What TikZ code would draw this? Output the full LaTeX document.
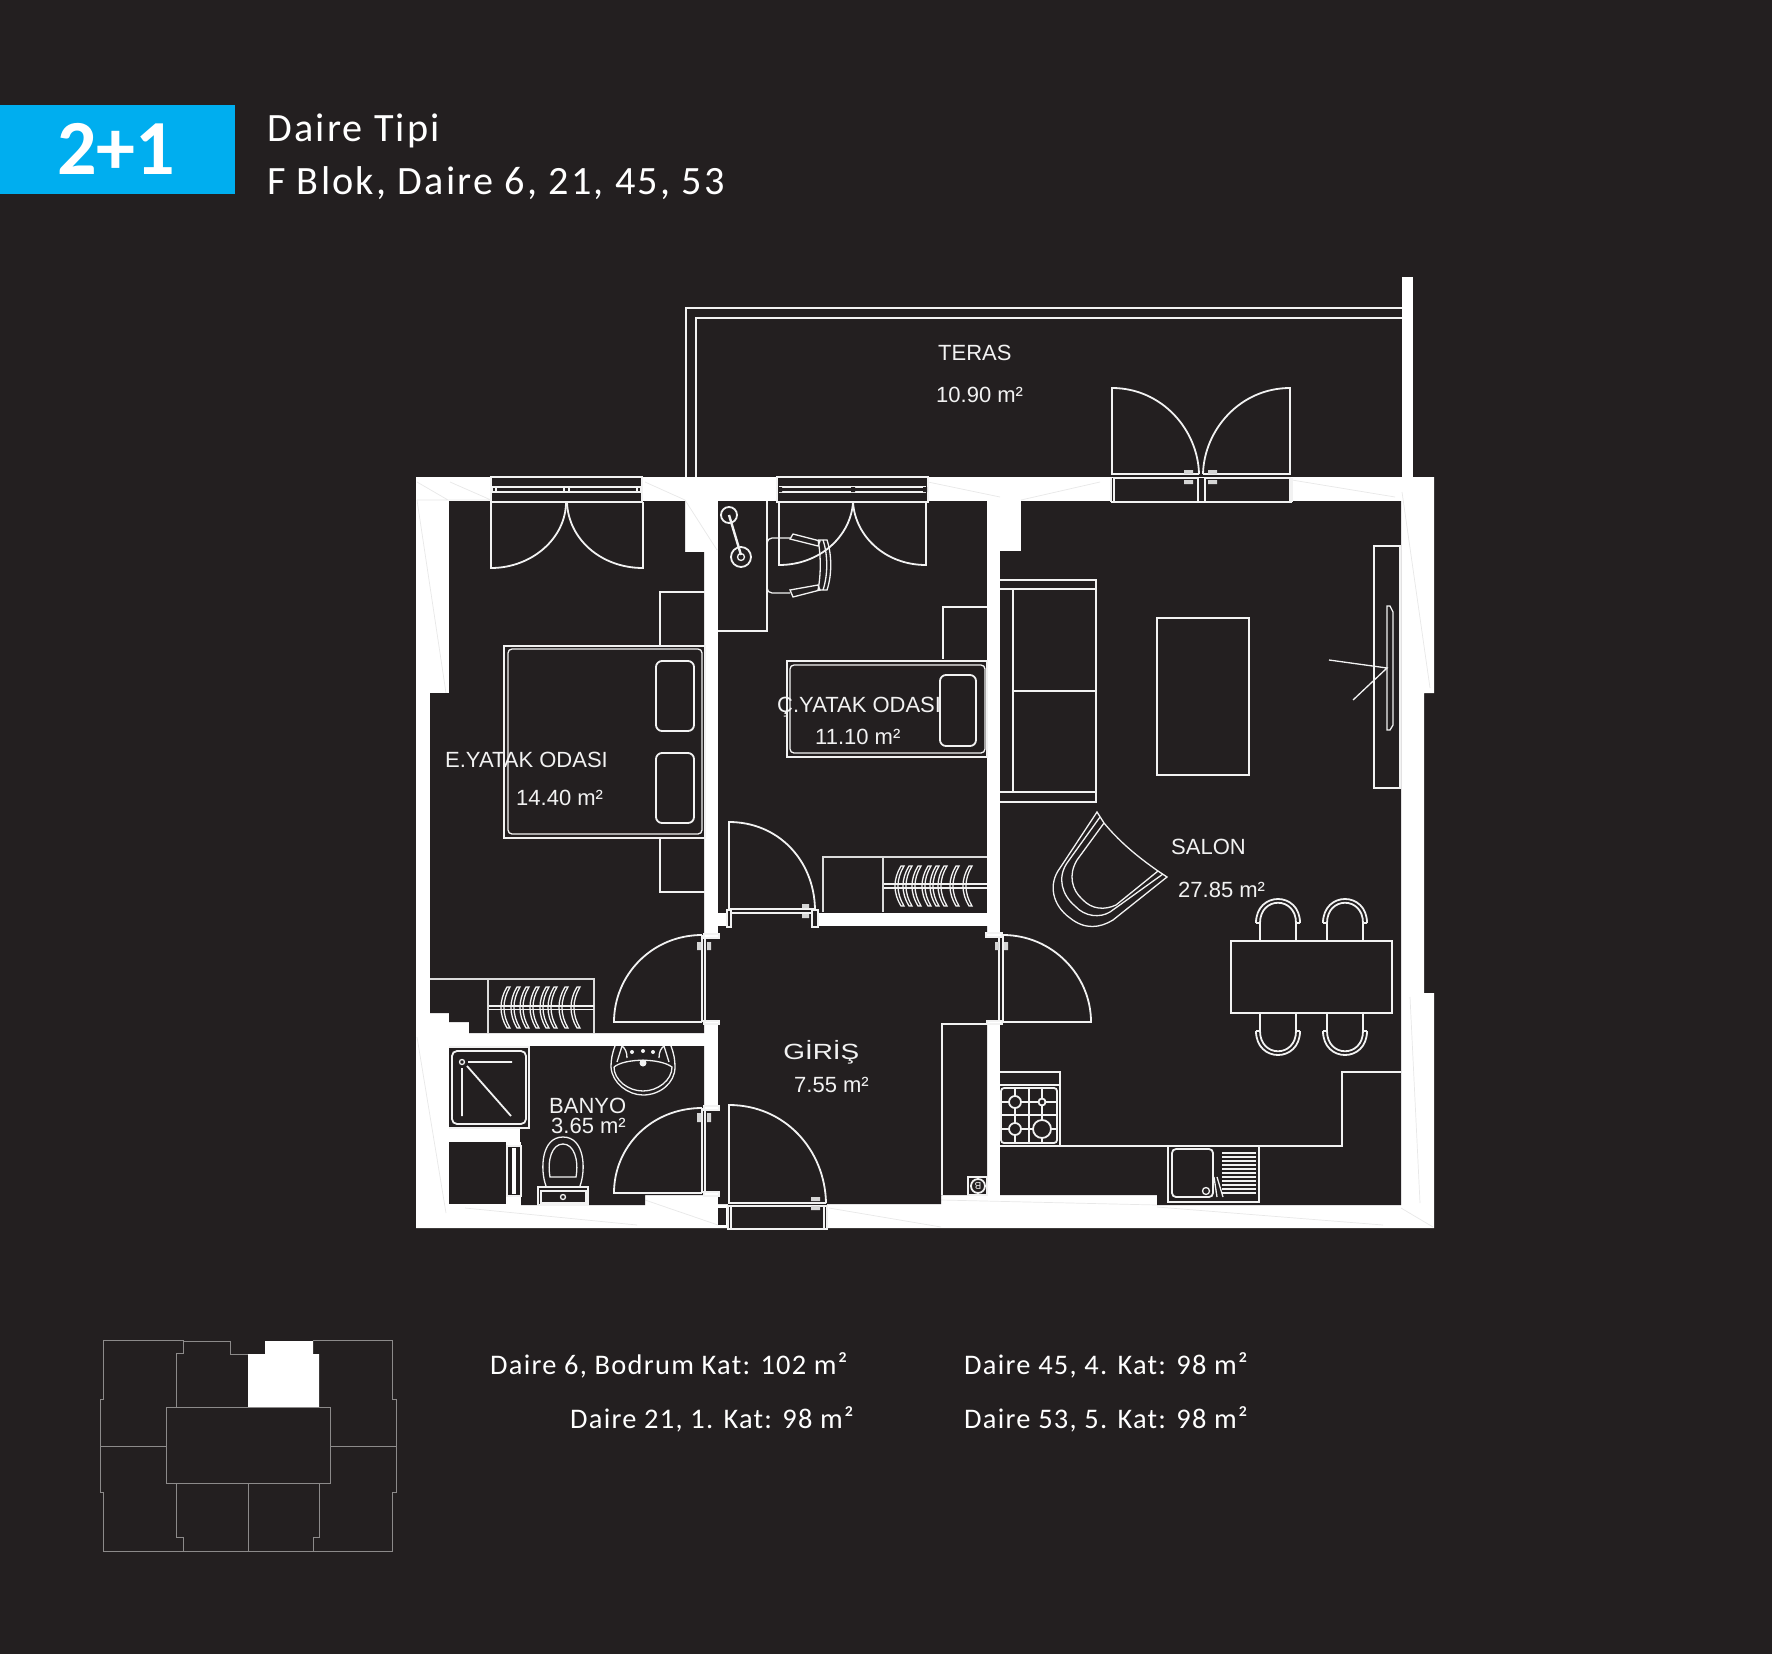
\documentclass[tikz,border=0pt]{standalone}
\usepackage{fontspec}
\setmainfont{Liberation Sans}
\newfontfamily\headfont{Carlito}
\newfontfamily\titlefont[LetterSpace=5.5]{Carlito}
\newfontfamily\listfont[LetterSpace=4.5]{Carlito}
\definecolor{planbg}{HTML}{231F20}
\definecolor{planblue}{HTML}{00AEEF}
\definecolor{planline}{HTML}{F2F2F2}
\definecolor{keyline}{HTML}{8C8A8A}
\tikzset{
  thinline/.style={draw=planline, line width=1.8pt},
  hairline/.style={draw=planline, line width=1.3pt},
  fatline/.style={draw=planline!80!gray, line width=2.6pt},
  seamline/.style={draw=black!9, line width=0.7pt},
  hinge/.style={fill=planline!75!gray, draw=none},
  keyplan/.style={draw=keyline, line width=1pt},
  roomtext/.style={font=\fontsize{22}{24}\selectfont, text=planline, inner sep=0pt, anchor=base west},
  headtext/.style={font=\titlefont\fontsize{40.2}{44}\selectfont, text=white, inner sep=0pt, anchor=base west},
  listtext/.style={font=\listfont\fontsize{28.4}{32}\selectfont, text=white, inner sep=0pt, anchor=base west}
}
\begin{document}
\begin{tikzpicture}[x=1pt, y=-1pt]
  \useasboundingbox (0,0) rectangle (1772,1654);
  \fill[planbg] (0,0) rectangle (1772,1654);

  % --- HEADER ---
  \fill[planblue] (0,105) rectangle (235,194);
  \node[font=\headfont\bfseries\fontsize{78}{84}\selectfont, text=white, inner sep=0pt] (typebox) at (116,149) {2+1};
  \node[headtext] (typetitle) at (267,141) {Daire Tipi};
  \node[headtext] (typeblock) at (267,194) {F Blok, Daire 6, 21, 45, 53};

  % --- TERRACE ---
  \draw[thinline] (686,478) -- (686,308) -- (1403,308);
  \draw[hairline] (696,478) -- (696,318) -- (1403,318);
  \fill[white] (1402,277) rectangle (1413,478);

  % --- WALLS AND ROOMS ---
  \fill[white] (416,477) -- (1434,477) -- (1434,693) -- (1424,693) -- (1424,993) -- (1434,993) -- (1434,1228) -- (416,1228) -- cycle;
  % faint seams on the walls
  \draw[seamline] (417,482) -- (448,500) (450,482) -- (491,500) (645,482) -- (685,500) (417,500) -- (491,500) (685,500) -- (717,550);
  \draw[seamline] (417,500) -- (446,693) (417,1037) -- (446,1213) (928,482) -- (1000,497) (1021,500) -- (1100,482);
  \draw[seamline] (465,1208) -- (637,1225) (645,1200) -- (718,1225) (829,1208) -- (941,1227) (1157,1207) -- (1383,1225) (941,1200) -- (1157,1205);
  \draw[seamline] (1401,1208) -- (1433,1227) (1410,997) -- (1420,1203) (1402,492) -- (1430,688) (1292,480) -- (1395,497);
  % master bedroom
  \fill[planbg] (449,501) -- (685,501) -- (685,552) -- (704,552) -- (704,1033) -- (469,1033) -- (469,1022) -- (449,1022) -- (449,1013) -- (430,1013) -- (430,693) -- (449,693) -- cycle;
  % small bedroom
  \fill[planbg] (718,501) rectangle (987,913);
  % hall
  \fill[planbg] (718,926) -- (987,926) -- (987,1195) -- (941,1195) -- (941,1204) -- (718,1204) -- cycle;
  \fill[planbg] (731,913) rectangle (812,926);
  \fill[planbg] (718,1208) rectangle (726,1225);
  % living room
  \fill[planbg] (1021,501) -- (1401,501) -- (1401,1205) -- (1157,1205) -- (1157,1195) -- (1000,1195) -- (1000,551) -- (1021,551) -- cycle;
  % bathroom
  \fill[planbg] (449,1046) -- (704,1046) -- (704,1195) -- (645,1195) -- (645,1205) -- (521,1205) -- (521,1142) -- (529,1128) -- (529,1128) -- (449,1128) -- cycle;
  \fill[planbg] (520,1128) rectangle (529,1142);
  \fill[white] (449,1128) rectangle (520,1142);
  \fill[planbg] (449,1142) rectangle (506,1204);
  % door openings
  \fill[planbg] (704,938) rectangle (718,1021);
  \fill[planbg] (704,1110) rectangle (718,1192);
  \fill[planbg] (987,937) rectangle (1000,1021);

  % --- WINDOWS AND BALCONY DOORS ---
  \fill[planbg] (491,477) rectangle (642,502);
  \draw[hairline] (491,477) rectangle (642,502);
  \draw[hairline] (492,487) rectangle (641,492);
  \draw[hairline] (492,487) rectangle (496,492) (564,487) rectangle (569,492) (637,487) rectangle (641,492);
  \draw[thinline] (566,502) .. controls (566,538) and (532,568) .. (491,568) -- (491,502);
  \draw[thinline] (567,502) .. controls (568,538) and (600,568) .. (643,568) -- (643,502);

  \fill[planbg] (777,477) rectangle (928,502);
  \draw[hairline] (777,477) rectangle (928,502);
  \draw[hairline] (780,487) rectangle (925,492);
  \fill[planbg] (778,487) rectangle (782,492) (851,487) rectangle (855,492) (923,487) rectangle (927,492);
  \draw[thinline] (853,502) .. controls (851,536) and (820,565) .. (779,565) -- (779,502);
  \draw[thinline] (853,502) .. controls (855,536) and (885,565) .. (926,565) -- (926,502);

  \fill[planbg] (1111,478) rectangle (1292,502);
  \draw[hairline] (1111,502) -- (1292,502) (1111,478) -- (1111,502) (1292,478) -- (1292,502);
  \draw[hairline] (1114,478) rectangle (1198,502);
  \draw[hairline] (1205,478) rectangle (1290,502);
  \draw[thinline] (1199,474) .. controls (1198,430) and (1162,388) .. (1112,388) -- (1112,474) -- (1199,474);
  \draw[thinline] (1203,474) .. controls (1204,430) and (1240,388) .. (1290,388) -- (1290,474) -- (1203,474);
  \fill[hinge] (1184,470) rectangle (1193,474) (1184,480) rectangle (1193,484) (1208,470) rectangle (1217,474) (1208,480) rectangle (1217,484);

  % --- INNER DOORS ---
  % small bedroom door
  \draw[hairline] (729,909) rectangle (815,913);
  \draw[thinline] (815,909) .. controls (814,860) and (778,822) .. (729,822) -- (729,909);
  \draw[hairline, fill=planbg] (727,910) rectangle (731,927);
  \draw[hairline, fill=planbg] (812,910) rectangle (818,927);
  \fill[hinge] (802,904) rectangle (809,908) (802,914) rectangle (809,918);
  % master bedroom door
  \draw[hairline] (702,935) -- (702,1022) (705,935) -- (705,1022);
  \draw[thinline] (702,935) .. controls (652,935) and (614,975) .. (614,1022) -- (702,1022);
  \draw[hairline, fill=white] (704,934) rectangle (719,938) (704,1021) rectangle (719,1024);
  \fill[hinge] (697,942) rectangle (701,950) (707,942) rectangle (711,950);
  % bathroom door
  \draw[hairline] (702,1108) -- (702,1193) (705,1108) -- (705,1193);
  \draw[thinline] (702,1108) .. controls (652,1108) and (614,1146) .. (614,1193) -- (702,1193);
  \draw[hairline, fill=white] (704,1106) rectangle (719,1110) (704,1192) rectangle (719,1196);
  \fill[hinge] (697,1113) rectangle (701,1122) (707,1113) rectangle (711,1122);
  % living room door
  \draw[hairline] (999,935) -- (999,1022) (1003,935) -- (1003,1022);
  \draw[thinline] (1003,935) .. controls (1052,935) and (1091,975) .. (1091,1022) -- (1003,1022);
  \draw[hairline, fill=white] (986,933) rectangle (1002,937) (987,1021) rectangle (1002,1024);
  \fill[hinge] (995,942) rectangle (999,950) (1004,942) rectangle (1008,950);
  % entrance door
  \fill[planbg] (728,1202) rectangle (827,1228);
  \draw[hairline] (728,1206) rectangle (827,1229);
  \draw[hairline] (731,1206) -- (731,1229) (824,1206) -- (824,1229);
  \draw[thinline] (826,1203) .. controls (825,1150) and (785,1105) .. (729,1105) -- (729,1203) -- (826,1203);
  \fill[hinge] (811,1197) rectangle (820,1201) (811,1206) rectangle (820,1210);

  % --- MASTER BEDROOM ---
  \draw[thinline] (504,646) rectangle (705,838);
  \draw[hairline, rounded corners=4pt] (508,649) rectangle (702,834);
  \draw[thinline, rounded corners=6pt] (656,661) rectangle (694,731);
  \draw[thinline, rounded corners=6pt] (656,753) rectangle (694,823);
  \draw[hairline] (705,592) -- (660,592) -- (660,646);
  \draw[hairline] (660,839) -- (660,892) -- (705,892);
  % wardrobe
  \draw[fatline] (430,979) -- (594,979) -- (594,1033);
  \draw[fatline] (488,979) -- (488,1033);
  \draw[hairline] (489,1006) -- (594,1006) (489,1009.5) -- (594,1009.5);
  \foreach \hx in {503,513,522,532,542,550,561,573} {
    \draw[hairline] (\hx+4,987) .. controls (\hx-4,1000) and (\hx-4,1015) .. (\hx+4,1028) -- (\hx+7,1028) .. controls (\hx-1,1015) and (\hx-1,1000) .. (\hx+7,987) -- cycle;
  }

  % --- SMALL BEDROOM ---
  \draw[thinline] (787,661) rectangle (987,757);
  \draw[hairline, rounded corners=4pt] (790,665) rectangle (985,753);
  \draw[thinline, rounded corners=6pt] (940,675) rectangle (976,746);
  \draw[hairline] (987,607) -- (943,607) -- (943,659);
  % desk, lamp, chair
  \draw[hairline] (767,501) -- (767,631) -- (718,631);
  \draw[thinline] (729,515) circle [radius=8];
  \draw[thinline] (741,557) circle [radius=10];
  \draw[hairline] (741,557) circle [radius=3.5];
  \draw[draw=planline, line width=2.4pt] (729,515) -- (741,555);
  \draw[hairline, rounded corners=5pt] (790,538) -- (767,538) -- (767,593) -- (790,593);
  \draw[hairline] (790,539) -- (793,534) -- (820,541) -- (818,546) -- cycle;
  \draw[hairline] (790,590) -- (793,597) -- (820,590) -- (818,585) -- cycle;
  \draw[hairline] (818,540) -- (827,540) .. controls (832,555) and (832,575) .. (827,590) -- (818,590) .. controls (821,575) and (821,555) .. (818,540);
  \draw[hairline] (823,540) .. controls (828,555) and (828,575) .. (823,590);
  % wardrobe
  \draw[fatline] (823,912) -- (823,857) -- (987,857);
  \draw[fatline] (883,857) -- (883,912);
  \draw[hairline] (884,884) -- (987,884) (884,888) -- (987,888);
  \foreach \hx in {900,908,917,927,935,943,955,968} {
    \draw[hairline] (\hx+1,866) .. controls (\hx-7,879) and (\hx-7,893) .. (\hx+1,906) -- (\hx+4,906) .. controls (\hx-4,893) and (\hx-4,879) .. (\hx+4,866) -- cycle;
  }

  % --- HALL ---
  \draw[hairline] (942,1195) -- (942,1024) -- (987,1024);
  \draw[hairline] (968,1177) rectangle (987,1195);
  \draw[thinline, fill=planbg] (978,1186) circle [radius=7];
  \node[font=\fontsize{10}{10}\selectfont, text=planline, rotate=180, inner sep=0pt] (boiler) at (978,1186) {B};

  % --- LIVING ROOM ---
  \draw[thinline] (1000,580) -- (1096,580) -- (1096,802) -- (1000,802);
  \draw[thinline] (1000,589) -- (1096,589) (1000,792) -- (1096,792) (1013,589) -- (1013,792) (1013,691) -- (1096,691);
  \draw[thinline] (1157,618) rectangle (1249,775);
  \draw[thinline] (1374,546) rectangle (1400,788);
  \draw[hairline] (1387,606) -- (1390,606) -- (1393,612) -- (1393,725) -- (1390,730) -- (1387,730) -- cycle;
  \draw[hairline] (1329,660) -- (1387,668) -- (1353,700);
  % armchair
  \draw[hairline] (1104,823) -- (1097,812) -- (1060,868) .. controls (1048,884) and (1052,905) .. (1070,918) .. controls (1085,930) and (1100,928) .. (1113,920) -- (1167,877) -- (1158,871) .. controls (1135,855) and (1118,840) .. (1104,823);
  \draw[hairline] (1100,817) -- (1067,863) .. controls (1057,878) and (1062,895) .. (1075,906) .. controls (1085,917) and (1100,918) .. (1110,912) -- (1163,874);
  \draw[hairline] (1104,823) -- (1077,860) .. controls (1068,875) and (1072,890) .. (1082,899) .. controls (1092,910) and (1105,910) .. (1116,905) -- (1158,871);
  % dining table and chairs
  \draw[thinline] (1231,941) rectangle (1392,1013);
  \foreach \cx in {1278,1345} {
    \draw[thinline] (\cx-18,941) -- (\cx-18,923) .. controls (\cx-18,896) and (\cx+18,896) .. (\cx+18,923) -- (\cx+18,941);
    \draw[thinline] (\cx-22,923) -- (\cx-18,923) (\cx+18,923) -- (\cx+22,923);
    \draw[thinline] (\cx-22,923) .. controls (\cx-22,891) and (\cx+22,891) .. (\cx+22,923);
    \draw[thinline] (\cx-18,1013) -- (\cx-18,1031) .. controls (\cx-18,1058) and (\cx+18,1058) .. (\cx+18,1031) -- (\cx+18,1013);
    \draw[thinline] (\cx-22,1031) -- (\cx-18,1031) (\cx+18,1031) -- (\cx+22,1031);
    \draw[thinline] (\cx-22,1031) .. controls (\cx-22,1063) and (\cx+22,1063) .. (\cx+22,1031);
  }

  % --- KITCHEN ---
  \draw[thinline] (1000,1072) -- (1060,1072) -- (1060,1146);
  \draw[thinline] (1000,1085) -- (1060,1085);
  \draw[thinline] (1000,1146) -- (1342,1146) -- (1342,1072) -- (1401,1072);
  \draw[thinline, rounded corners=3pt] (1001,1088) rectangle (1057,1143);
  \draw[thinline] (1015,1088) -- (1015,1143) (1029,1088) -- (1029,1143) (1042,1088) -- (1042,1143);
  \draw[thinline] (1001,1102) -- (1057,1102) (1001,1115) -- (1057,1115) (1001,1129) -- (1057,1129);
  \draw[thinline, fill=planbg] (1015,1102) circle [radius=6] (1042,1102) circle [radius=3.5] (1015,1129) circle [radius=6] (1042,1129) circle [radius=9];
  % sink
  \draw[thinline] (1168,1146) rectangle (1259,1202);
  \draw[thinline, rounded corners=4pt] (1172,1149) rectangle (1213,1197);
  \draw[hairline] (1206,1191) circle [radius=3.5];
  \draw[hairline] (1214,1177) -- (1217,1197) (1217,1177) -- (1223,1197);
  \foreach \ly in {1153,1157,...,1193} {
    \draw[hairline] (1222,\ly) -- (1256,\ly);
  }

  % --- BATHROOM ---
  \draw[thinline] (449,1047) -- (529,1047) -- (529,1128) -- (449,1128);
  \draw[thinline, rounded corners=5pt] (452,1051) rectangle (526,1124);
  \draw[hairline] (462,1062) circle [radius=2.5];
  \draw[thinline] (468,1062) -- (512,1062) (462,1068) -- (462,1116) (467,1066) -- (511,1116);
  % radiator
  \draw[hairline, fill=planbg] (507,1146) rectangle (521,1196);
  \fill[white] (512,1148) rectangle (516,1194);
  % washbasin
  \draw[hairline] (615,1046) .. controls (612,1054) and (611,1060) .. (611,1067) .. controls (612,1083) and (628,1095) .. (643,1095) .. controls (660,1095) and (675,1083) .. (675,1067) .. controls (675,1060) and (674,1054) .. (671,1046);
  \draw[hairline] (614,1067) .. controls (625,1058) and (660,1058) .. (672,1067) .. controls (672,1080) and (658,1091) .. (643,1091) .. controls (628,1091) and (614,1080) .. (614,1067);
  \draw[hairline] (617,1062) -- (622,1046) (627,1058) .. controls (627,1052) and (625,1048) .. (622,1046) (669,1062) -- (664,1046) (659,1058) .. controls (659,1052) and (661,1048) .. (664,1046);
  \fill[planline] (643,1063) circle [radius=3.5] (632,1052) circle [radius=2] (643,1051) circle [radius=2] (653,1052) circle [radius=2];
  % toilet
  \draw[hairline] (546,1186) .. controls (540,1170) and (541,1137) .. (563,1137) .. controls (585,1137) and (586,1170) .. (580,1186);
  \draw[hairline] (550,1177) .. controls (547,1160) and (552,1144) .. (563,1144) .. controls (574,1144) and (579,1160) .. (576,1177) -- cycle;
  \draw[thinline] (538,1187) rectangle (588,1205);
  \draw[hairline] (541,1191) rectangle (586,1203);
  \draw[hairline] (563,1197) circle [radius=2.5];

  % --- ROOM LABELS ---
  \node[roomtext] (teras) at (938,360) {TERAS};
  \node[roomtext] (terasarea) at (936,402) {10.90 m²};
  \node[roomtext] (eyatak) at (445,767) {E.YATAK ODASI};
  \node[roomtext] (eyatakarea) at (516,805) {14.40 m²};
  \node[roomtext] (cyatak) at (777,712) {Ç.YATAK ODASI};
  \node[roomtext] (cyatakarea) at (815,744) {11.10 m²};
  \node[roomtext] (salon) at (1171,854) {SALON};
  \node[roomtext] (salonarea) at (1178,897) {27.85 m²};
  \node[roomtext, xscale=1.27] (giris) at (783,1059) {GİRİŞ};
  \node[roomtext] (girisarea) at (794,1092) {7.55 m²};
  \node[roomtext] (banyo) at (549,1113) {BANYO};
  \node[roomtext] (banyoarea) at (551,1133) {3.65 m²};

  % --- KEY PLAN ---
  \fill[white] (248,1354) -- (265,1354) -- (265,1341) -- (313,1341) -- (313,1354) -- (319,1354) -- (319,1407) -- (248,1407) -- cycle;
  \draw[keyplan] (176,1407) -- (176,1353) -- (183,1353) -- (183,1340) -- (103,1340) -- (103,1399) -- (100,1399) -- (100,1492) -- (103,1492) -- (103,1551) -- (392,1551) -- (392,1492) -- (396,1492) -- (396,1399) -- (392,1399) -- (392,1340) -- (313,1340);
  \draw[keyplan] (183,1341) -- (230,1341) -- (230,1354) -- (248,1354);
  \draw[keyplan] (166,1407) rectangle (330,1483);
  \draw[keyplan] (100,1446) -- (166,1446) (330,1446) -- (396,1446);
  \draw[keyplan] (176,1483) -- (176,1537) -- (183,1537) -- (183,1551);
  \draw[keyplan] (248,1483) -- (248,1551);
  \draw[keyplan] (319,1483) -- (319,1537) -- (313,1537) -- (313,1551);

  % --- AREA LIST ---
  \node[listtext] (listsix) at (490,1374) {Daire 6, Bodrum Kat: 102 m²};
  \node[listtext] (listtwentyone) at (570,1428) {Daire 21, 1. Kat: 98 m²};
  \node[listtext] (listfortyfive) at (964,1374) {Daire 45, 4. Kat: 98 m²};
  \node[listtext] (listfiftythree) at (964,1428) {Daire 53, 5. Kat: 98 m²};
\end{tikzpicture}
\end{document}
